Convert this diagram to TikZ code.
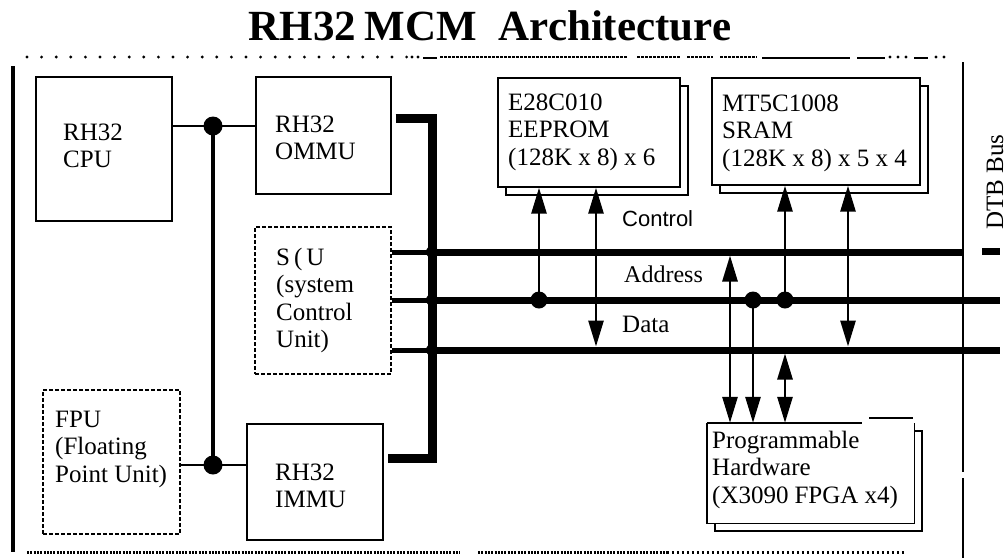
\documentclass[tikz,border=0pt]{standalone}
\usepackage{fontspec}
\setmainfont{Liberation Serif}
\newfontfamily\sansf{Liberation Sans}
\usetikzlibrary{arrows.meta}
\newcommand\mystrut{\rule{0pt}{20pt}}
\begin{document}
\begin{tikzpicture}[x=1pt,y=-1pt,
  >={Triangle[length=26pt,width=15pt]},
  box/.style={draw, line width=1.4pt, fill=white, inner sep=0pt},
  dbox/.style={draw, line width=1.3pt, dash pattern=on 4pt off 2pt, inner sep=0pt},
  shadowbox/.style={draw, line width=1.1pt, inner sep=0pt},
  txt/.style={anchor=north west, inner sep=0pt, align=left, font=\fontsize{25}{27.5}\selectfont},
  lbl/.style={anchor=base west, inner sep=0pt},
  link/.style={line width=2pt},
  vlink/.style={line width=3.5pt},
  thickbus/.style={line width=9pt, line join=miter},
  bus/.style={line width=7pt},
  scul/.style={line width=5pt},
  arr/.style={line width=2.8pt},
  bigdot/.style={circle, fill, inner sep=0pt, minimum size=19pt},
  busdot/.style={circle, fill, inner sep=0pt, minimum size=17pt},
  jdot/.style={circle, fill, inner sep=0pt, minimum size=12pt},
  border/.style={line width=4pt},
]
\useasboundingbox (0,0) rectangle (1008,558);

% title
\node[anchor=base, inner sep=0pt, font=\fontsize{43}{48}\selectfont\bfseries] (title) at (490,40) {RH32\hspace{8pt}MCM\hspace{22pt}Architecture};

% frame
\draw[line width=3.2pt, line cap=round, dash pattern=on 0pt off 14.6pt] (27,57) -- (410,57);
\draw[line width=3.2pt, line cap=round, dash pattern=on 0pt off 6pt] (412,57) -- (419,57);
\draw[line width=2pt] (423,58) -- (437,58);
\draw[line width=2.4pt, dash pattern=on 3pt off 1pt] (440,57) -- (628,57);
\draw[line width=2.4pt, dash pattern=on 3pt off 1pt] (637,57) -- (680,57);
\draw[line width=2.4pt, dash pattern=on 3pt off 1pt] (687,57) -- (713,57);
\draw[line width=2.4pt, dash pattern=on 3pt off 1pt] (720,57) -- (757,57);
\draw[line width=2pt] (762,58) -- (850,58);
\draw[line width=2pt] (857,58) -- (885,58);
\draw[line width=3.2pt, line cap=round, dash pattern=on 0pt off 8pt] (890,57) -- (907,57);
\draw[line width=2pt] (914,58) -- (928,58);
\draw[line width=3.2pt, line cap=round, dash pattern=on 0pt off 8pt] (936,57) -- (945,57);
\draw[line width=3pt, dash pattern=on 2pt off 1.3pt] (27,552) -- (460,552);
\draw[line width=3pt, dash pattern=on 2pt off 1.3pt] (478,552) -- (667,552);
\draw[line width=3pt, dash pattern=on 2pt off 3pt] (667,552) -- (905,552);
\draw[border] (13,66) -- (13,552);
\draw[line width=2.5pt] (963,62) -- (963,472);
\draw[line width=2.5pt] (963,478) -- (963,558);

% left boxes
\node[box, minimum width=136pt, minimum height=144pt] (cpu) at (104,149) {};
\node[box, minimum width=135pt, minimum height=117pt] (ommu) at (323.5,135.5) {};
\node[dbox, minimum width=136pt, minimum height=147pt] (scu) at (323,300.5) {};
\node[dbox, minimum width=137pt, minimum height=144pt] (fpu) at (111.5,462) {};
\node[box, minimum width=136pt, minimum height=116pt] (immu) at (315,482) {};

\node[txt] (cpuT) at (63,120) {\mystrut RH32\\CPU};
\node[txt] (ommuT) at (275,112) {\mystrut RH32\\OMMU};
\node[txt] (scuT) at (276,245) {\mystrut S\hspace{4pt}(\hspace{4pt}U\\(system\\Control\\Unit)};
\node[txt] (fpuT) at (55,407) {\mystrut FPU\\(Floating\\Point Unit)};
\node[txt] (immuT) at (275,460) {\mystrut RH32\\IMMU};

% CPU/FPU interconnect
\node[bigdot] (d1) at (213,126) {};
\node[bigdot] (d2) at (213,465) {};
\draw[link] (cpu.east |- d1) -- (d1.center) -- (ommu.west |- d1);
\draw[link] (fpu.east |- d2) -- (d2.center) -- (immu.west |- d2);
\draw[vlink] (d1.center) -- (d2.center);

% thick internal bus
\coordinate (vbT) at (432,118);
\coordinate (vbB) at (432,458);
\draw[thickbus] ([xshift=4pt]ommu.east |- vbT) -- (vbT) -- (vbB) -- ([xshift=4pt]immu.east |- vbB);

% DTB buses
\coordinate (ctlL) at (432,252);
\coordinate (ctlR) at (963,252);
\coordinate (adrL) at (432,300);
\coordinate (adrR) at (1000,300);
\coordinate (datL) at (432,350);
\coordinate (datR) at (1000,350);
\draw[bus] (ctlL) -- (ctlR);
\draw[bus] (adrL) -- (adrR);
\draw[bus] (datL) -- (datR);
\draw[scul] (scu.east |- ctlL) -- (ctlL);
\draw[scul] (scu.east |- adrL) -- (adrL);
\draw[scul] (scu.east |- datL) -- (datL);
\node[jdot] (j1) at (ctlL) {};
\node[jdot] (j2) at (adrL) {};
\node[jdot] (j3) at (datL) {};
\coordinate (barL) at (982,251);
\coordinate (barR) at (1000,251);
\draw[bus] (barL) -- (barR);

% memory boxes with shadows
\node[shadowbox, minimum width=182pt, minimum height=109pt] (eepS) at (597,140.5) {};
\node[box, minimum width=182pt, minimum height=109pt] (eep) at (589,132.5) {};
\node[shadowbox, minimum width=208pt, minimum height=107pt] (sramS) at (824,139.5) {};
\node[box, minimum width=208pt, minimum height=107pt] (sram) at (816,131.5) {};
\node[shadowbox, minimum width=207pt, minimum height=100pt] (phS) at (818.5,481) {};
\node[fill=white, inner sep=0pt, minimum width=207pt, minimum height=100pt] (ph) at (810.5,473) {};
\draw[line width=1.4pt] (ph.north west) -- (ph.south west) -- (ph.south east) -- (ph.north east);
\draw[line width=1.4pt] (ph.north west) -- ([xshift=-52pt]ph.north east);
\draw[line width=1.4pt] ([xshift=-45pt,yshift=5pt]ph.north east) -- ([xshift=-1pt,yshift=5pt]ph.north east);

\node[txt] (eepT) at (508,90) {\mystrut E28C010\\EEPROM\\(128K x 8) x 6};
\node[txt] (sramT) at (722,91) {\mystrut MT5C1008\\SRAM\\(128K x 8) x 5 x 4};
\node[txt] (phT) at (712,428) {\mystrut Programmable\\Hardware\\(X3090\hspace{6pt}FPGA x4)};

% bus labels
\node[lbl, font=\sansf\fontsize{22}{26}\selectfont] (ctlT) at (622,226) {Control};
\node[lbl, font=\fontsize{24}{28}\selectfont] (adrT) at (624,282) {Address};
\node[lbl, font=\fontsize{25}{28}\selectfont] (datT) at (622,332) {Data};
\node[rotate=90, anchor=base, inner sep=0pt, font=\fontsize{25}{28}\selectfont] (dtbT) at (1003,182) {DTB Bus};

% arrows
\node[busdot] (a1) at (539,300) {};
\draw[arr,->] (a1.center) -- (eep.south -| a1);
\coordinate (a2) at (596,300);
\draw[arr,<->] (eep.south -| a2) -- ([yshift=3.5pt]a2 |- datL);
\coordinate (a3) at (730,300);
\draw[arr,<->] ([yshift=-3.5pt]a3 |- ctlL) -- (ph.north -| a3);
\node[busdot] (a4) at (753,300) {};
\draw[arr,->] (a4.center) -- (ph.north -| a4);
\node[busdot] (a5) at (785,300) {};
\draw[arr,->] (a5.center) -- (sram.south -| a5);
\coordinate (a6) at (848,300);
\draw[arr,<->] (sram.south -| a6) -- ([yshift=3.5pt]a6 |- datL);
\coordinate (a7) at (785,400);
\draw[arr,<->] ([yshift=-3.5pt]a7 |- datL) -- (ph.north -| a7);
\end{tikzpicture}
\end{document}
